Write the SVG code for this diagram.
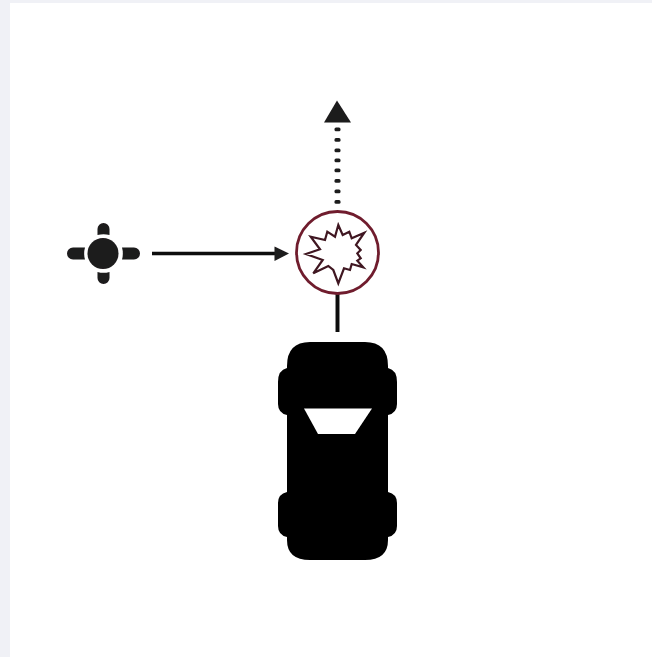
<svg xmlns="http://www.w3.org/2000/svg" width="652" height="657" viewBox="0 0 652 657">
<style>
.k{fill:#000}
.d{fill:#1c1a1b}
.ln{stroke:#111;fill:none}
</style>
<defs><filter id="b" x="-5%" y="-5%" width="110%" height="110%"><feGaussianBlur stdDeviation="0.6"/></filter></defs>
<rect width="652" height="657" fill="#f0f1f6"/>
<rect x="10" y="3" width="642" height="654" fill="#fff"/>
<g filter="url(#b)">
<g id="connectors">
<path class="ln" stroke-width="3.500" d="M152 253.500H278"/>
<path class="d" d="M274.500 246.500L289 253.500L274.500 261Z"/>
<path class="ln" stroke-width="4" d="M337.500 293V332"/>
<g class="d">
<rect x="334.500" y="127.500" width="6" height="3.800" rx="1.500"/>
<rect x="334.500" y="138" width="6" height="3.800" rx="1.500"/>
<rect x="334.500" y="148.500" width="6" height="3.800" rx="1.500"/>
<rect x="334.500" y="158.500" width="6" height="3.800" rx="1.500"/>
<rect x="334.500" y="168.500" width="6" height="3.800" rx="1.500"/>
<rect x="334.500" y="179" width="6" height="3.800" rx="1.500"/>
<rect x="334.500" y="189.500" width="6" height="3.800" rx="1.500"/>
<rect x="334.500" y="200" width="6" height="3.800" rx="1.500"/>
</g>
<path class="d" d="M337 100.500L351 122.500H324Z"/>
</g>
<g id="pedestrian">
<circle class="d" cx="103" cy="253.500" r="15.500"/>
<path class="d" d="M85 247.500H73a6 6 0 0 0 0 12H85a22 22 0 0 1 0-12Z"/>
<path class="d" d="M122 247.500H134a6 6 0 0 1 0 12H122a22 22 0 0 0 0-12Z"/>
<path class="d" d="M97.500 235V229a6 6 0 0 1 12 0V235a22 22 0 0 0-12 0Z"/>
<path class="d" d="M97.500 272V278a6 6 0 0 0 12 0V272a22 22 0 0 1-12 0Z"/>
</g>
<g id="impact">
<circle cx="337.500" cy="252.500" r="41" fill="#fff" stroke="#6f1f2d" stroke-width="2.800"/>
<path fill="#fff" stroke="#3f1820" stroke-width="2.200" stroke-linejoin="miter" d="M338.300 225L342.700 235L349.300 231.700L351.700 238.300L364.300 232.700L356 245L360.700 250L357.300 253.300L360.700 258.300L357.300 260.700L363.300 267.300L351.700 264L350 270L344 268.300L338.300 283.300L333.300 270L328.300 266L313.300 273.300L322.700 260L306 254L320 249.300L310.700 236.700L325 240L327.300 231.700L335 236.700Z"/>
</g>
<g id="car">
<path class="k" d="M310 342H365Q388 342 388 366V368H388Q397 370 397 382V404Q397 413 388 415V492Q397 494 397 503V526Q397 535 388 537V540Q388 560 365 560H310Q287 560 287 540V537Q278 535 278 526V503Q278 494 287 492V415Q278 413 278 404V382Q278 370 287 368V366Q287 342 310 342Z"/>
<path fill="#fff" d="M304 408.500H372L355 434H318Z"/>
</g>
</g>
</svg>
